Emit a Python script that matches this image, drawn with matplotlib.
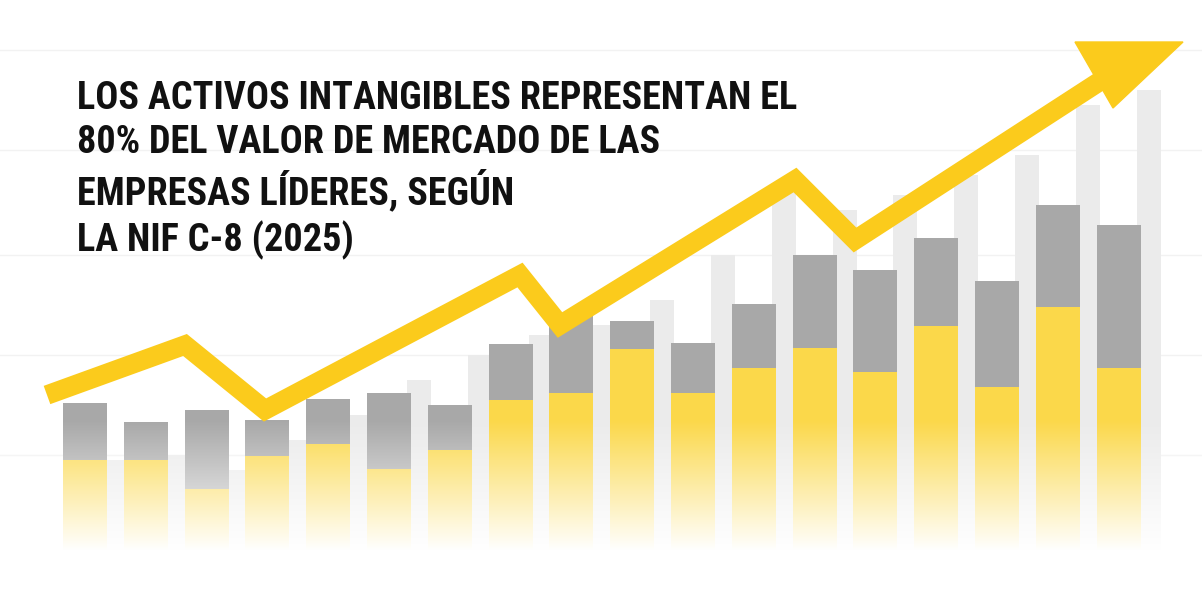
import matplotlib
matplotlib.use("Agg")
import matplotlib.pyplot as plt
from matplotlib import font_manager
import numpy as np

# data (value units: 600 = top of image, 0 = bottom)
idx = list(range(18))
gray_top = [197, 178, 190, 180, 201, 207, 195, 256, 284, 279, 257, 296, 345, 330, 362, 319, 395, 375]
yellow_top = [140, 140, 111, 144, 156, 131, 150, 200, 207, 251, 207, 232, 252, 228, 274, 213, 293, 232]
bg_top = [140, 145, 130, 160, 185, 220, 245, 265, 275, 300, 345, 415, 390, 405, 425, 445, 495, 510]
arrow_x = [47, 185, 265, 520, 560, 795, 855, 1105]
arrow_y = [205, 255, 190, 325, 275, 420, 360, 522]
title = "LOS ACTIVOS INTANGIBLES REPRESENTAN EL\n80% DEL VALOR DE MERCADO DE LAS\nEMPRESAS LÍDERES, SEGÚN\nLA NIF C-8 (2025)"

names = {f.name for f in font_manager.fontManager.ttflist}
fam = next((n for n in ["Liberation Sans Narrow", "DejaVu Sans Condensed", "Roboto Condensed"] if n in names), "DejaVu Sans")

fig = plt.figure(figsize=(12.02, 6.0), dpi=100)
ax = fig.add_axes([0, 0, 1, 1])
ax.set_xlim(0, 1202); ax.set_ylim(0, 600); ax.axis("off")

for g in [145, 245, 345, 450, 550]:
    ax.axhline(g, color="#f2f2f2", lw=1, zorder=0)

x0, dx = 85, 60.8
xs = [x0 + i * dx for i in idx]
ax.bar([x + 30 for x in xs], bg_top, width=24, color="#ebebeb", zorder=1)
ax.bar(xs, gray_top, width=44, color="#a8a8a8", zorder=2)
ax.bar(xs, yellow_top, width=44, color="#fbd84a", zorder=3)

grad = np.zeros((200, 1, 4)); grad[..., :3] = 1
a = np.clip((np.linspace(0, 200, 200)[:, None] - 50) / 130, 0, 1)
grad[..., 3] = 1 - a
ax.imshow(grad, extent=[0, 1202, 0, 200], origin="lower", aspect="auto", zorder=4)

ax.plot(arrow_x, arrow_y, color="#fbcb1c", lw=14, solid_joinstyle="miter", solid_capstyle="butt", zorder=5)
ax.add_patch(plt.Polygon([[1183, 558], [1075, 558], [1113, 492]], closed=True, color="#fbcb1c", zorder=5))

size = 27.5 if fam != "DejaVu Sans" else 21
ax.text(77, 520, title, fontsize=size, fontweight="bold", family=fam,
        va="top", ha="left", linespacing=1.25, color="#111111", zorder=6)
fig.savefig("out.png", dpi=100)
